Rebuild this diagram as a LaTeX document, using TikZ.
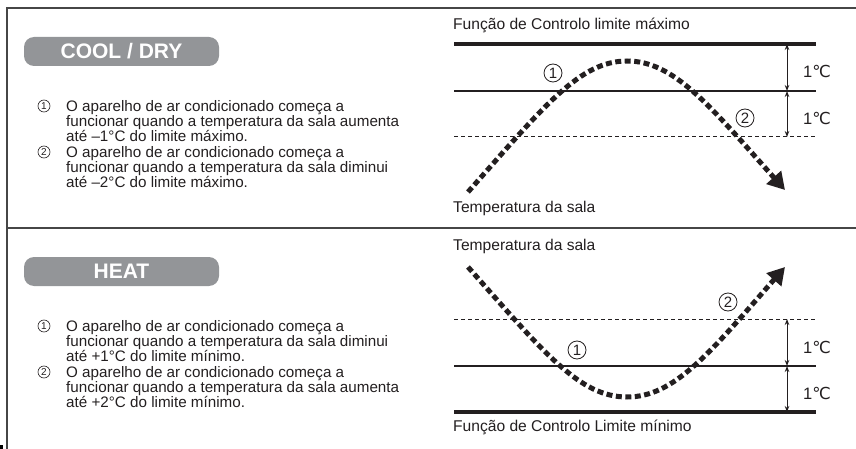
\documentclass[tikz,border=0pt]{standalone}
\usepackage{fontspec}
\setmainfont{Liberation Sans}
\newfontfamily\symfont{DejaVu Sans}
\usetikzlibrary{arrows.meta,positioning}
\definecolor{pillgray}{RGB}{147,149,152}
\definecolor{framegray}{RGB}{70,70,70}
\definecolor{ink}{RGB}{35,31,32}
\newcommand{\degc}{{\symfont ℃}}

\begin{document}
\begin{tikzpicture}[x=1pt,y=-1pt,
    frame/.style={line width=1.6pt, draw=framegray},
    modepill/.style={fill=pillgray, rounded corners=10pt, minimum width=195pt, minimum height=29pt,
        inner sep=0pt, text=white, font=\fontsize{21}{21}\selectfont\bfseries},
    itemnum/.style={circle, draw=ink, line width=0.6pt, minimum size=12pt, inner sep=0pt,
        text=ink, font=\fontsize{10}{10}\selectfont},
    itemtext/.style={anchor=north west, align=left, inner sep=0pt, text=ink,
        font=\fontsize{15.2}{15.3}\selectfont},
    graphlabel/.style={anchor=base west, inner sep=0pt, text=ink, font=\fontsize{15.6}{16}\selectfont},
    deglabel/.style={inner sep=0pt, text=ink, font=\fontsize{16.5}{16.5}\selectfont},
    curvenum/.style={circle, draw=ink, line width=0.8pt, minimum size=18pt, inner sep=0pt,
        text=ink, font=\fontsize{15}{15}\selectfont},
    limitline/.style={line width=3.5pt, draw=ink},
    midline/.style={line width=1.1pt, draw=ink},
    offsetline/.style={line width=1pt, draw=ink, dash pattern=on 4pt off 3pt},
    dimarrow/.style={line width=1pt, draw=ink, {Stealth[length=6pt,width=4.5pt]}-{Stealth[length=6pt,width=4.5pt]}},
    tempcurve/.style={line width=5pt, draw=ink, dash pattern=on 6pt off 3.5pt,
        -{Triangle[length=17pt,width=19pt]}}]
  \useasboundingbox (0,0) rectangle (856,449);

  % frame
  \draw[frame] (7,449) -- (7,8) -- (856,8);
  \draw[frame] (7,228) -- (856,228);
  \fill[black] (0,445) rectangle (3,449);

  % COOL / DRY
  \node[modepill] (coolpill) at (121.5,51.5) {COOL / DRY};
  \node[itemnum] (cool1n) at (44,106) {1};
  \node[itemtext] (cool1) at (66,100) {O aparelho de ar condicionado começa a\\
    funcionar quando a temperatura da sala aumenta\\até –1°C do limite máximo.};
  \node[itemnum] (cool2n) at (44,152) {2};
  \node[itemtext] (cool2) at (66,146) {O aparelho de ar condicionado começa a\\
    funcionar quando a temperatura da sala diminui\\até –2°C do limite máximo.};

  % HEAT
  \node[modepill] (heatpill) at (121.5,271.5) {HEAT};
  \node[itemnum] (heat1n) at (44,326) {1};
  \node[itemtext] (heat1) at (66,320) {O aparelho de ar condicionado começa a\\
    funcionar quando a temperatura da sala diminui\\até +1°C do limite mínimo.};
  \node[itemnum] (heat2n) at (44,372) {2};
  \node[itemtext] (heat2) at (66,366) {O aparelho de ar condicionado começa a\\
    funcionar quando a temperatura da sala aumenta\\até +2°C do limite mínimo.};

  % upper graph: maximum limit
  \node[graphlabel] (coolmax) at (453,30) {Função de Controlo limite máximo};
  \node[graphlabel] (cooltemp) at (453,212) {Temperatura da sala};
  \coordinate (cA) at (787,44);
  \coordinate (cB) at (787,91);
  \coordinate (cC) at (787,137);
  \draw[limitline] (454,44) -- (816,44);
  \draw[midline] (454,91) -- (816,91);
  \draw[offsetline] (454,137) -- (816,137);
  \draw[dimarrow] (cA) -- (cB);
  \draw[dimarrow] (cB) -- (cC);
  \node[deglabel] (cdeg1) at (817,71) {1\degc};
  \node[deglabel] (cdeg2) at (817,118) {1\degc};
  \draw[tempcurve] (468,192) .. controls (545,105) and (580,61) .. (627,61)
    .. controls (674,61) and (709,105) .. (785,190);
  \node[curvenum] (ccurve1) at (553,73) {1};
  \node[curvenum] (ccurve2) at (745,118) {2};

  % lower graph: minimum limit
  \node[graphlabel] (heattemp) at (453,250) {Temperatura da sala};
  \node[graphlabel] (heatmin) at (453,431) {Função de Controlo Limite mínimo};
  \coordinate (hA) at (787,319);
  \coordinate (hB) at (787,366);
  \coordinate (hC) at (787,412);
  \draw[offsetline] (454,319) -- (816,319);
  \draw[midline] (454,366) -- (816,366);
  \draw[limitline] (454,412) -- (816,412);
  \draw[dimarrow] (hA) -- (hB);
  \draw[dimarrow] (hB) -- (hC);
  \node[deglabel] (hdeg1) at (817,347) {1\degc};
  \node[deglabel] (hdeg2) at (817,393) {1\degc};
  \draw[tempcurve] (468,267) .. controls (545,354) and (580,397) .. (627,397)
    .. controls (674,397) and (709,354) .. (785,267);
  \node[curvenum] (hcurve1) at (577,350) {1};
  \node[curvenum] (hcurve2) at (728,302) {2};
\end{tikzpicture}
\end{document}
